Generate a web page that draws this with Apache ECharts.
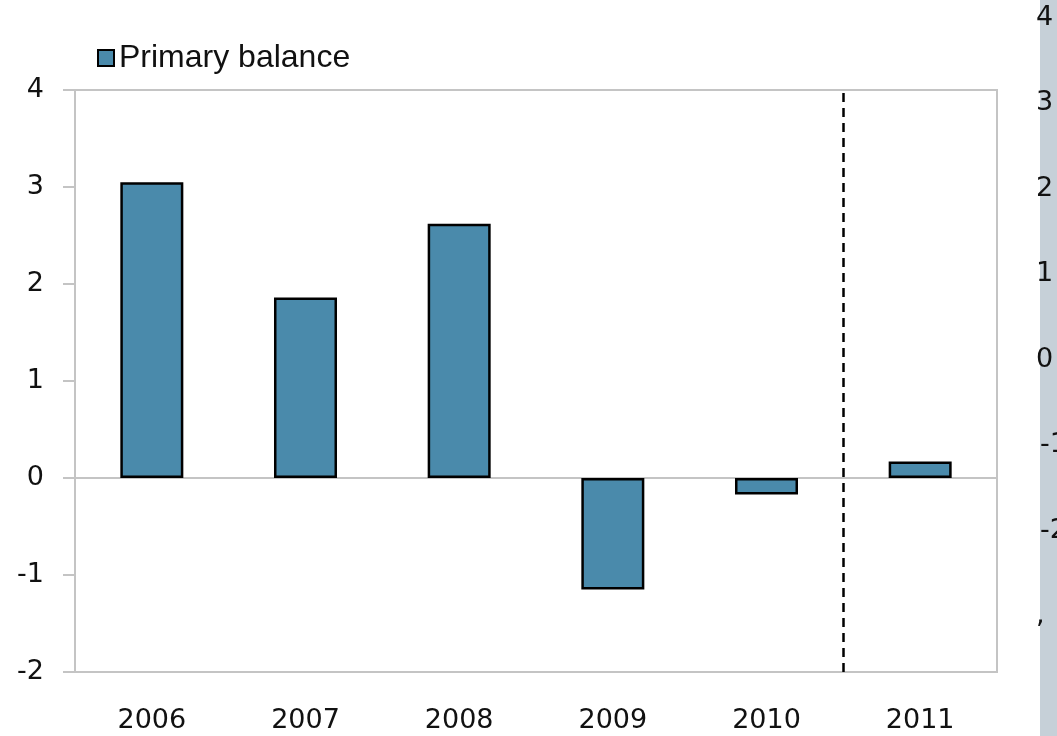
<!DOCTYPE html>
<html>
<head>
<meta charset="utf-8">
<script src="https://cdn.jsdelivr.net/npm/echarts@6/dist/echarts.min.js"></script>
<style>
  html, body { margin: 0; padding: 0; background: #fff; }
  #chart { width: 1057px; height: 736px; }
</style>
</head>
<body>
<div id="chart"></div>
<script>
var years = ['2006', '2007', '2008', '2009', '2010', '2011'];
var primaryBalance = [3.05, 1.86, 2.62, -1.15, -0.17, 0.17];
var yTicks = [-2, 4, 1];          // min, max, step
var forecastStart = 5;            // boundary between 2010 and 2011
var sideTicks = ['4', '3', '2', '1', '0', '-1', '-2', ','];

var myChart = echarts.init(document.getElementById('chart'));

// fragment of the neighbouring chart cut off at the right edge
var sideGraphics = [{
    type: 'rect',
    shape: { x: 1040, y: 0, width: 17, height: 736 },
    style: { fill: '#c6d0d8' },
    z: 0
}];
sideTicks.forEach(function (item, index, array) {
    sideGraphics.push({
        type: 'text',
        x: item.length > 1 ? 1040 : 1036,
        y: 4 + index * 85.5,
        style: { text: item, fill: '#111', font: '27px "DejaVu Sans"' },
        z: 1
    });
});

var option = {
    animation: false,
    backgroundColor: '#fff',
    grid: {
        left: 75, right: 60, top: 90, bottom: 64,
        show: true, borderColor: '#c4c4c4', borderWidth: 2
    },
    legend: {
        left: 92, top: 37,
        icon: 'rect',
        itemWidth: 16, itemHeight: 16, itemGap: 4,
        textStyle: { fontFamily: 'Liberation Sans', fontSize: 32, color: '#111' },
        data: ['Primary balance']
    },
    xAxis: [{
        type: 'category',
        data: years,
        position: 'top',
        axisLine: { onZero: true, lineStyle: { color: '#c4c4c4', width: 2 } },
        axisTick: { inside: true, length: 10, lineStyle: { color: '#c4c4c4', width: 2 } },
        axisLabel: { show: false }
    }, {
        type: 'category',
        data: years,
        position: 'bottom',
        axisLine: { onZero: false, show: false },
        axisTick: { show: false },
        axisLabel: { margin: 35, fontFamily: 'DejaVu Sans', fontSize: 27, color: '#111' }
    }, {
        type: 'value',
        min: 0, max: years.length,
        show: false
    }],
    yAxis: {
        type: 'value',
        min: yTicks[0], max: yTicks[1], interval: yTicks[2],
        axisLine: { show: true, lineStyle: { color: '#c4c4c4', width: 2 } },
        axisTick: { show: true, length: 12, lineStyle: { color: '#c4c4c4', width: 2 } },
        axisLabel: { margin: 31, fontFamily: 'DejaVu Sans', fontSize: 27, color: '#111' },
        splitLine: { show: false }
    },
    series: [{
        name: 'Primary balance',
        type: 'bar',
        xAxisIndex: 0,
        barWidth: '41%',
        data: primaryBalance,
        itemStyle: { color: '#4a8aab', borderColor: '#000', borderWidth: 2.5 }
    }, {
        name: 'divider',
        type: 'line',
        xAxisIndex: 2,
        data: [],
        markLine: {
            silent: true,
            symbol: 'none',
            label: { show: false },
            lineStyle: { color: '#000', type: [9, 6], width: 2.5 },
            data: [{ xAxis: forecastStart }]
        }
    }],
    graphic: sideGraphics
};

myChart.setOption(option);
</script>
</body>
</html>
